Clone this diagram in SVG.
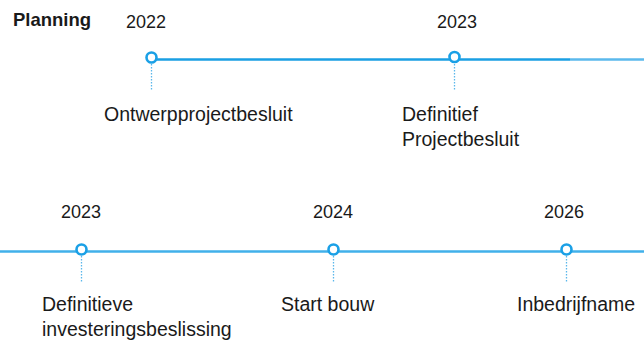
<svg xmlns="http://www.w3.org/2000/svg" width="644" height="342" viewBox="0 0 644 342">
<style>
text{font-family:"Liberation Sans",Arial,sans-serif;fill:#1a1a1a}
.lbl{font-size:19.5px}
.yr{font-size:18px}
.ttl{font-size:18.5px;font-weight:bold}
.dot{stroke:#5ab7eb;stroke-width:1.3;stroke-dasharray:1.5 1.5;fill:none}
.ms{fill:#fff;stroke:#1aa0e6;stroke-width:2.6}
</style>
<rect width="644" height="342" fill="#fff"/>
<text class="ttl" x="13" y="26">Planning</text>
<g id="connectors">
<line x1="151" y1="59.5" x2="570" y2="59.5" stroke="#1a9fe3" stroke-width="2.6"/>
<line x1="570" y1="59.5" x2="644" y2="59.5" stroke="#5bb9ec" stroke-width="2.6"/>
<line x1="0" y1="251.5" x2="644" y2="251.5" stroke="#41b0ea" stroke-width="2.4"/>
<line class="dot" x1="151.5" y1="64" x2="151.5" y2="91"/>
<line class="dot" x1="454.5" y1="64" x2="454.5" y2="91"/>
<line class="dot" x1="81.5" y1="256" x2="81.5" y2="282"/>
<line class="dot" x1="333.5" y1="256" x2="333.5" y2="282"/>
<line class="dot" x1="566.5" y1="256" x2="566.5" y2="282"/>
</g>
<g id="n1">
<circle class="ms" cx="151.5" cy="57.5" r="5"/>
<text class="yr" x="126" y="28">2022</text>
<text class="lbl" x="104" y="121">Ontwerpprojectbesluit</text>
</g>
<g id="n2">
<circle class="ms" cx="454.5" cy="57" r="5"/>
<text class="yr" x="437" y="28">2023</text>
<text class="lbl" x="402" y="121">Definitief</text>
<text class="lbl" x="402" y="146">Projectbesluit</text>
</g>
<g id="n3">
<circle class="ms" cx="81.5" cy="249.5" r="5"/>
<text class="yr" x="61" y="218">2023</text>
<text class="lbl" x="42" y="311">Definitieve</text>
<text class="lbl" x="42" y="336">investeringsbeslissing</text>
</g>
<g id="n4">
<circle class="ms" cx="333.5" cy="249.5" r="5"/>
<text class="yr" x="313" y="218">2024</text>
<text class="lbl" x="281" y="311">Start bouw</text>
</g>
<g id="n5">
<circle class="ms" cx="566.5" cy="249.5" r="5"/>
<text class="yr" x="544" y="218">2026</text>
<text class="lbl" x="517" y="311">Inbedrijfname</text>
</g>
</svg>
